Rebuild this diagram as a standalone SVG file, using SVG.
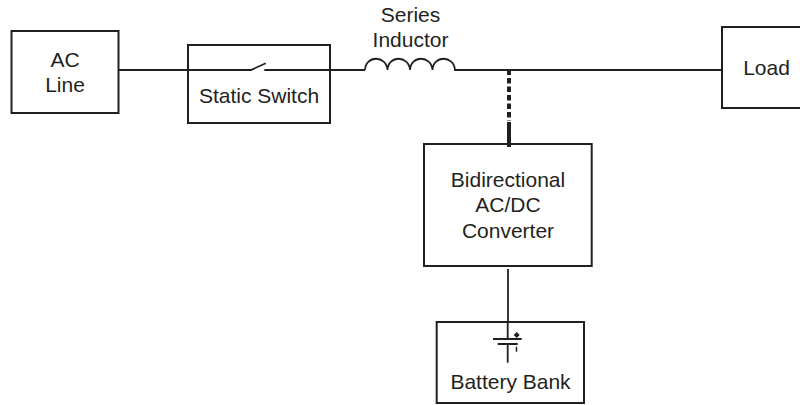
<svg xmlns="http://www.w3.org/2000/svg" width="800" height="405" viewBox="0 0 800 405">
<style>
.box{fill:none;stroke:#231f20;stroke-width:2}
.w{fill:none;stroke:#231f20;stroke-width:1.800}
text{font-family:"Liberation Sans",Arial,sans-serif;font-size:21px;fill:#231f20;text-anchor:middle}
</style>
<rect width="800" height="405" fill="#fff"/>
<g id="connectors">
<path class="w" d="M118.500 70H251L265.700 63.300M264.300 70H365"/>
<path class="w" d="M365 70C365.500 55 386.500 55 387.500 70C388 55 409 55 410 70C410.500 55 431.500 55 432.500 70C433 55 454 55 455 70H722"/>
<path fill="none" stroke="#231f20" stroke-width="4" stroke-dasharray="5.500 3" d="M509 69.500V121"/>
<path fill="none" stroke="#231f20" stroke-width="4" d="M509 122V147"/>
<path class="w" d="M508 269V322"/>
</g>
<g id="ac-line"><rect class="box" x="11.500" y="31" width="107" height="82"/><text x="65" y="67">AC</text><text x="65" y="92">Line</text></g>
<g id="static-switch"><rect class="box" x="188" y="45" width="142" height="78"/><text x="259" y="103">Static Switch</text></g>
<g id="series-inductor"><text x="410.500" y="21.500">Series</text><text x="410.500" y="46.500">Inductor</text></g>
<g id="load"><rect class="box" x="722" y="27" width="90" height="81"/><text x="766.500" y="75">Load</text></g>
<g id="converter"><rect class="box" x="424" y="144" width="167.700" height="122"/><text x="508" y="186.500">Bidirectional</text><text x="508" y="212">AC/DC</text><text x="508" y="237.500">Converter</text></g>
<g id="battery-bank"><rect class="box" x="436.700" y="322" width="147.300" height="81"/>
<path class="w" d="M507.700 322V339M493 339H521.700M497.700 344H517.700M507.700 344V362.700"/>
<path fill="#231f20" d="M516.700 332l3 3-3 3-3-3z"/>
<path fill="none" stroke="#231f20" stroke-width="1.500" d="M516.500 346.700V351.700"/>
<text x="510.500" y="388.500">Battery Bank</text></g>
</svg>
